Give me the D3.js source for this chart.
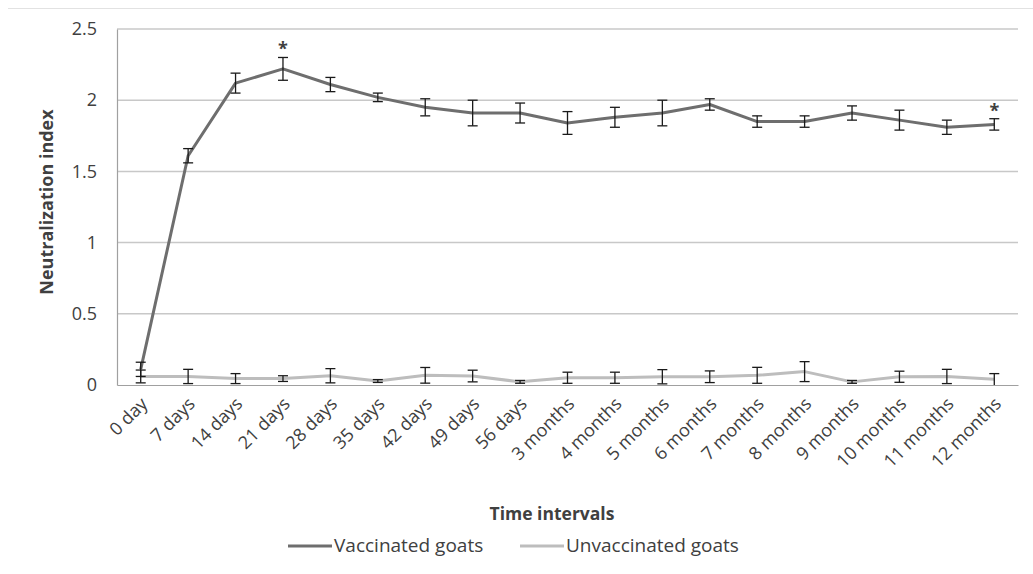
<!DOCTYPE html>
<html>
<head>
<meta charset="utf-8">
<script src="https://cdn.jsdelivr.net/npm/d3@7"></script>
<style>
  body { margin: 0; background: #fff; }
  text { font-family: "Open Sans", sans-serif; fill: #404040; }
</style>
</head>
<body>
<svg id="chart" width="1033" height="574"></svg>
<script>
// time points on the x axis
var categories = ['0 day', '7 days', '14 days', '21 days', '28 days', '35 days', '42 days',
  '49 days', '56 days', '3 months', '4 months', '5 months', '6 months', '7 months',
  '8 months', '9 months', '10 months', '11 months', '12 months'];

var vaccinated = [0.11, 1.61, 2.12, 2.22, 2.11, 2.02, 1.95, 1.91, 1.91, 1.84, 1.88, 1.91,
  1.97, 1.85, 1.85, 1.91, 1.86, 1.81, 1.83];
var vaccinatedErr = [0.05, 0.05, 0.07, 0.08, 0.05, 0.03, 0.06, 0.09, 0.07, 0.08, 0.07, 0.09,
  0.04, 0.04, 0.04, 0.05, 0.07, 0.05, 0.04];

var unvaccinated = [0.06, 0.06, 0.045, 0.045, 0.065, 0.028, 0.068, 0.063, 0.022, 0.051, 0.051,
  0.058, 0.058, 0.068, 0.094, 0.022, 0.058, 0.06, 0.04];
var unvaccinatedErr = [0.045, 0.05, 0.035, 0.02, 0.05, 0.01, 0.055, 0.041, 0.01, 0.039, 0.039,
  0.05, 0.041, 0.056, 0.07, 0.01, 0.039, 0.05, 0.04];

// categories marked with * above the vaccinated series
var starred = ['21 days', '12 months'];

var yTicks = [0, 0.5, 1, 1.5, 2, 2.5];

var svg = d3.select('#chart');
var plotLeft = 117, plotRight = 1018, plotTop = 29, plotBottom = 385;

var x = d3.scaleBand().domain(categories).range([plotLeft, plotRight]);
var y = d3.scaleLinear().domain([0, 2.5]).range([plotBottom, plotTop]);
var cx = function(c) { return x(c) + x.bandwidth() / 2; };

// outer chart border (only the top edge shows)
svg.append('line')
  .attr('x1', 8).attr('x2', 1033).attr('y1', 8.5).attr('y2', 8.5)
  .attr('stroke', '#e2e2e2').attr('stroke-width', 1);

// gridlines
svg.append('g').selectAll('line')
  .data(yTicks.filter(function(d) { return d > 0; }))
  .enter().append('line')
  .attr('x1', plotLeft).attr('x2', plotRight)
  .attr('y1', function(d) { return y(d); })
  .attr('y2', function(d) { return y(d); })
  .attr('stroke', '#c8c8c8').attr('stroke-width', 1.5);

// y axis
var yAxis = svg.append('g')
  .attr('transform', 'translate(' + plotLeft + ',0)')
  .call(d3.axisLeft(y).tickValues(yTicks).tickSize(0).tickPadding(20)
    .tickFormat(function(d) { return d; }));
yAxis.select('.domain').attr('stroke', '#a0a0a0').attr('stroke-width', 1.2);
yAxis.selectAll('text').style('font-size', '18px').attr('fill', '#404040')
  .style('font-family', '"Open Sans", sans-serif');

// x axis
var xAxis = svg.append('g')
  .attr('transform', 'translate(0,' + plotBottom + ')')
  .call(d3.axisBottom(x).tickSize(0).tickPadding(0));
xAxis.select('.domain').attr('stroke', '#a0a0a0').attr('stroke-width', 1.2);
xAxis.selectAll('text')
  .style('font-size', '18px').attr('fill', '#404040')
  .style('font-family', '"Open Sans", sans-serif')
  .attr('text-anchor', 'end')
  .attr('dy', null).attr('y', 0)
  .attr('transform', 'translate(8,20) rotate(-45)');

var line = d3.line()
  .x(function(d, i) { return cx(categories[i]); })
  .y(function(d) { return y(d); });

function drawSeries(values, errs, color) {
  svg.append('path')
    .datum(values)
    .attr('d', line)
    .attr('fill', 'none')
    .attr('stroke', color)
    .attr('stroke-width', 3)
    .attr('stroke-linejoin', 'round');

  var g = svg.append('g').attr('stroke', '#1a1a1a').attr('stroke-width', 1.3);
  values.forEach(function(v, i) {
    var px = cx(categories[i]);
    var lo = Math.max(0, v - errs[i]), hi = v + errs[i];
    g.append('line').attr('x1', px).attr('x2', px).attr('y1', y(hi)).attr('y2', y(lo));
    g.append('line').attr('x1', px - 5).attr('x2', px + 5).attr('y1', y(hi)).attr('y2', y(hi));
    if (v - errs[i] > 0) {
      g.append('line').attr('x1', px - 5).attr('x2', px + 5).attr('y1', y(lo)).attr('y2', y(lo));
    }
  });
}

drawSeries(unvaccinated, unvaccinatedErr, '#bdbdbd');
drawSeries(vaccinated, vaccinatedErr, '#6e6e6e');

// significance asterisks
starred.forEach(function(c) {
  var i = categories.indexOf(c);
  var hi = vaccinated[i] + vaccinatedErr[i];
  svg.append('text')
    .attr('x', cx(c)).attr('y', y(hi) - 2)
    .attr('text-anchor', 'middle')
    .style('font-size', '18px').style('font-weight', 'bold')
    .attr('fill', '#222')
    .text('*');
});

// axis titles
svg.append('text')
  .attr('transform', 'translate(53,' + ((plotTop + plotBottom) / 2 - 5) + ') rotate(-90)')
  .attr('text-anchor', 'middle')
  .style('font-size', '18px').style('font-weight', 'bold')
  .attr('fill', '#1a1a1a')
  .text('Neutralization index');

svg.append('text')
  .attr('x', 552).attr('y', 520)
  .attr('text-anchor', 'middle')
  .style('font-size', '17.5px').style('font-weight', 'bold')
  .attr('fill', '#1a1a1a')
  .text('Time intervals');

// legend
var legend = [
  { name: 'Vaccinated goats', color: '#6e6e6e', x: 288 },
  { name: 'Unvaccinated goats', color: '#bdbdbd', x: 520 }
];
legend.forEach(function(d) {
  svg.append('line')
    .attr('x1', d.x).attr('x2', d.x + 44).attr('y1', 546).attr('y2', 546)
    .attr('stroke', d.color).attr('stroke-width', 3);
  svg.append('text')
    .attr('x', d.x + 46).attr('y', 552)
    .style('font-size', '19px')
    .attr('fill', '#404040')
    .text(d.name);
});
</script>
</body>
</html>
